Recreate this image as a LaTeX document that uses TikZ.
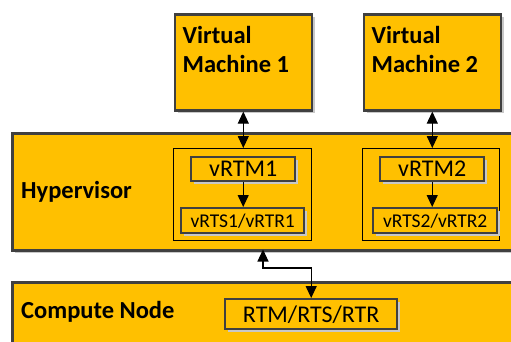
\documentclass[tikz,border=0pt]{standalone}
\usepackage{fontspec}
\setmainfont{Carlito}
\usetikzlibrary{arrows.meta,shadows}
\definecolor{gold}{HTML}{FFC000}
\definecolor{edge}{HTML}{404040}
\definecolor{shade}{HTML}{C8C8C8}
\begin{document}
\begin{tikzpicture}[x=1pt,y=-1pt,
  block/.style={draw=edge,line width=2.6pt,fill=gold,inner sep=0pt,anchor=north west,
    drop shadow={shadow xshift=3pt,shadow yshift=-3pt,fill=shade,opacity=1}},
  unit/.style={block,line width=2.4pt},
  group/.style={draw=black,line width=0.9pt,inner sep=0pt,anchor=north west},
  title/.style={font=\fontsize{24.5}{29}\selectfont\bfseries,inner sep=0pt,align=left},
  link/.style={line width=1.1pt,{Triangle[width=11pt,length=12pt]}-{Triangle[width=11pt,length=12pt]}},
  flow/.style={line width=1.1pt,-{Triangle[width=11pt,length=12pt]}}]
\useasboundingbox (0,0) rectangle (511,341);
\clip (0,0) rectangle (511,341);

% compute node and hypervisor layers
\node[block,minimum width=520pt,minimum height=80pt] (cn) at (11,281) {};
\node[block,minimum width=520pt,minimum height=117pt] (hyp) at (11,132) {};

% virtual machines
\node[block,minimum width=137pt,minimum height=96pt] (vm1) at (173.5,13) {};
\node[block,minimum width=137pt,minimum height=96pt] (vm2) at (362.5,13) {};
\node[title,anchor=north west] (vm1t) at (182.5,26) {Virtual\\Machine 1};
\node[title,anchor=north west] (vm2t) at (371.5,26) {Virtual\\Machine 2};

% layer labels
\node[title,anchor=west] (hypt) at (21,192) {Hypervisor};
\node[title,anchor=west] (cnt) at (21,312) {Compute Node};

% per-VM groups inside the hypervisor
\node[group,minimum width=138pt,minimum height=92pt] (g1) at (173,148) {};
\node[group,minimum width=137pt,minimum height=92pt] (g2) at (362,148) {};

\node[unit,minimum width=104pt,minimum height=24pt,font=\fontsize{24}{26}\selectfont] (vrtm1) at (190,156) {vRTM1};
\node[unit,minimum width=123pt,minimum height=25pt,font=\fontsize{19.5}{22}\selectfont] (vrts1) at (180,207) {vRTS1/vRTR1};
\node[unit,minimum width=104pt,minimum height=24pt,font=\fontsize{24}{26}\selectfont] (vrtm2) at (379,156) {vRTM2};
\node[unit,minimum width=124pt,minimum height=25pt,font=\fontsize{19.5}{22}\selectfont] (vrts2) at (372,207) {vRTS2/vRTR2};

% trusted components of the compute node
\node[unit,minimum width=172pt,minimum height=30pt,font=\fontsize{24}{26}\selectfont] (rtm) at (224,298) {RTM/RTS/RTR};

% connectors
\draw[link] (vm1.south) -- (vm1.south |- g1.north);
\draw[link] (vm2.south) -- (vm2.south |- g2.north);
\draw[flow] (vrtm1.south) -- (vrtm1.south |- vrts1.north);
\draw[flow] (vrtm2.south) -- (vrtm2.south |- vrts2.north);
\coordinate (hp) at (263,249.5);
\draw[link] (hp) -- ++(0,18.5) -| (rtm.north);
\end{tikzpicture}
\end{document}
